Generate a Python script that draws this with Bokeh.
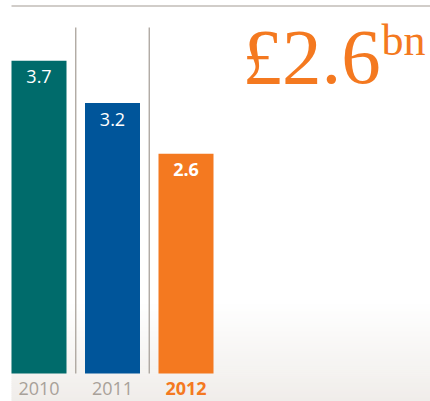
from bokeh.plotting import figure
from bokeh.models import ColumnDataSource, Range1d, Label
from bokeh.core.properties import value
from bokeh.embed import file_html
from bokeh.resources import INLINE

# ---- data ----
years = ["2010", "2011", "2012"]
amounts = [3.7, 3.2, 2.6]
value_labels = ["3.7", "3.2", "2.6"]
bar_colors = ["#006b6b", "#00559a", "#f47920"]
highlight_year = "2012"
headline = "£2.6"
headline_unit = "bn"

# ---- layout constants (pixels) ----
W, H = 430, 401
PX = 84.5          # pixels per unit of value
BASE = 373         # pixel row of zero, from top
SLOT = 73.5        # pixels between bar centres
X0 = 38.5          # pixel column of first bar centre

def ydata(fy):
    return (BASE - fy) / PX

def xdata(fx):
    return (fx - X0) / SLOT

p = figure(width=W, height=H, output_backend="svg", toolbar_location=None,
           x_range=Range1d(xdata(0), xdata(W)), y_range=Range1d(ydata(H), ydata(0)),
           x_axis_type=None, y_axis_type=None, min_border=0)
p.outline_line_color = None
p.xgrid.visible = False
p.ygrid.visible = False
p.background_fill_color = "white"
p.border_fill_color = "white"

# background gradient (decoration)
g_top, g_bot = 300, H
n = 50
c0 = (255, 255, 255)
c1 = (240, 237, 234)
tops, bots, cols = [], [], []
for i in range(n):
    t = i / (n - 1)
    fy0 = g_top + (g_bot - g_top) * i / n
    fy1 = g_top + (g_bot - g_top) * (i + 1) / n + 0.6
    tops.append(ydata(fy0))
    bots.append(ydata(fy1))
    r = [int(round(c0[k] + (c1[k] - c0[k]) * t)) for k in range(3)]
    cols.append("#%02x%02x%02x" % tuple(r))
p.quad(left=xdata(11), right=xdata(W + 5), top=tops, bottom=bots,
       fill_color=cols, line_color=None)

# top rule
p.segment(x0=xdata(11), x1=xdata(W + 5), y0=ydata(5.5), y1=ydata(5.5),
          line_color="#a39b94", line_width=1.2)

xs = list(range(len(years)))
src = ColumnDataSource(dict(x=xs, top=amounts, color=bar_colors,
                            lab=value_labels, year=years))

# dividers between bars
div_x = [i + 0.5 for i in xs[:-1]]
p.segment(x0=div_x, x1=div_x, y0=[0] * len(div_x), y1=[ydata(27)] * len(div_x),
          line_color="#aaa39c", line_width=1.3)

p.vbar(x="x", top="top", bottom=0, width=55 / SLOT, fill_color="color",
       line_color=None, source=src)

# value labels inside bars
norm = [i for i, y in enumerate(years) if y != highlight_year]
hi = [i for i, y in enumerate(years) if y == highlight_year]
src_n = ColumnDataSource(dict(x=[xs[i] for i in norm], y=[amounts[i] for i in norm],
                              lab=[value_labels[i] for i in norm],
                              year=[years[i] for i in norm]))
src_h = ColumnDataSource(dict(x=[xs[i] for i in hi], y=[amounts[i] for i in hi],
                              lab=[value_labels[i] for i in hi],
                              year=[years[i] for i in hi]))

p.text(x="x", y="y", text="lab", source=src_n, text_color="white",
       text_font=value("Open Sans"), text_font_size="18px",
       text_align="center", text_baseline="alphabetic", y_offset=16)
p.text(x="x", y="y", text="lab", source=src_h, text_color="white",
       text_font=value("Open Sans"), text_font_size="18px", text_font_style="bold",
       text_align="center", text_baseline="alphabetic", y_offset=16)

# year labels
p.text(x="x", y=0, text="year", source=src_n, text_color="#a8a199",
       text_font=value("Open Sans"), text_font_size="18px",
       text_align="center", text_baseline="alphabetic", y_offset=15)
p.text(x="x", y=0, text="year", source=src_h, text_color="#f47920",
       text_font=value("Open Sans"), text_font_size="18px", text_font_style="bold",
       text_align="center", text_baseline="alphabetic", y_offset=15)

# headline
p.add_layout(Label(x=242, y=H - 56, x_units="screen", y_units="screen",
                   text=headline, text_color="#f47920",
                   text_font="Liberation Serif", text_font_size="79px",
                   text_align="left", text_baseline="alphabetic"))
p.add_layout(Label(x=381, y=H - 40, x_units="screen", y_units="screen",
                   text=headline_unit, text_color="#f47920",
                   text_font="Liberation Serif", text_font_size="44px",
                   text_align="left", text_baseline="alphabetic"))

open("out.html", "w").write(file_html(p, INLINE))
